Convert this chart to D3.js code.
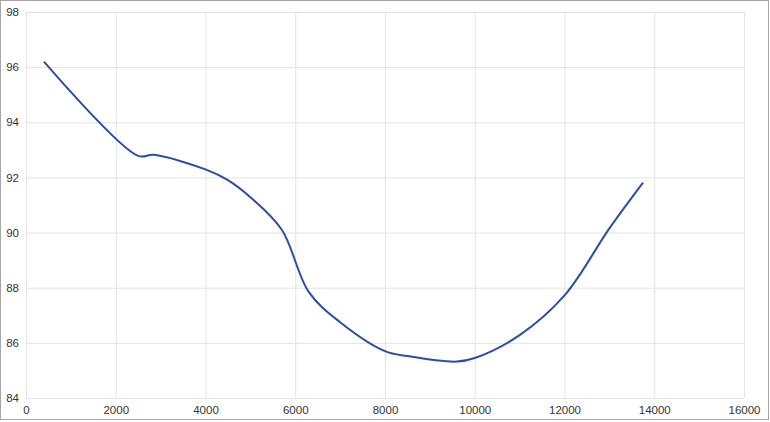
<!DOCTYPE html>
<html><head><meta charset="utf-8">
<script src="https://cdn.jsdelivr.net/npm/d3@7/dist/d3.min.js"></script>
<style>body{margin:0;background:#fff}svg{display:block}</style>
</head><body>
<svg id="c" width="770" height="422"></svg>
<script>
const xVals = [400, 2500, 2850, 4000, 4500, 5000, 5700, 6300, 7000, 8000, 8500, 9600, 10000, 11000, 12000, 13000, 13750];
const yVals = [96.2, 92.78, 92.82, 92.29, 91.9, 91.28, 90.1, 87.85, 86.75, 85.7, 85.52, 85.32, 85.45, 86.28, 87.72, 90.15, 91.81];
const xTicks = [0, 2000, 4000, 6000, 8000, 10000, 12000, 14000, 16000];
const yTicks = [84, 86, 88, 90, 92, 94, 96, 98];

const svg = d3.select("#c");
const L = 26, R = 744, T = 12, B = 398;
const x = d3.scaleLinear().domain([0, 16000]).range([L, R]);
const y = d3.scaleLinear().domain([84, 98]).range([B, T]);

svg.append("rect").attr("x", 0.5).attr("y", 0.5).attr("width", 768).attr("height", 419)
  .attr("fill", "#fff").attr("stroke", "#a6a6a6");

const gx = svg.append("g").attr("transform", `translate(0,${B})`)
  .call(d3.axisBottom(x).tickValues(xTicks).tickSize(-(B - T)).tickPadding(6).tickFormat(d3.format("d")));
const gy = svg.append("g").attr("transform", `translate(${L},0)`)
  .call(d3.axisLeft(y).tickValues(yTicks).tickSize(-(R - L)).tickPadding(7).tickFormat(d3.format("d")));
[gx, gy].forEach(g => {
  g.select(".domain").remove();
  g.selectAll(".tick line").attr("stroke", "#e3e3e3").attr("stroke-width", 1);
  g.selectAll(".tick text").attr("fill", "#333").attr("font-family", "Liberation Sans, Arial, sans-serif").attr("font-size", 11.5);
});
gx.selectAll(".tick text").attr("dy", "0.9em");

const data = xVals.map((v, i) => [v, yVals[i]]);
svg.append("path").datum(data)
  .attr("fill", "none").attr("stroke", "#2a4ea3").attr("stroke-width", 2)
  .attr("d", d3.line().x(d => x(d[0])).y(d => y(d[1])).curve(d3.curveCatmullRom.alpha(0.5)));
</script>
</body></html>
